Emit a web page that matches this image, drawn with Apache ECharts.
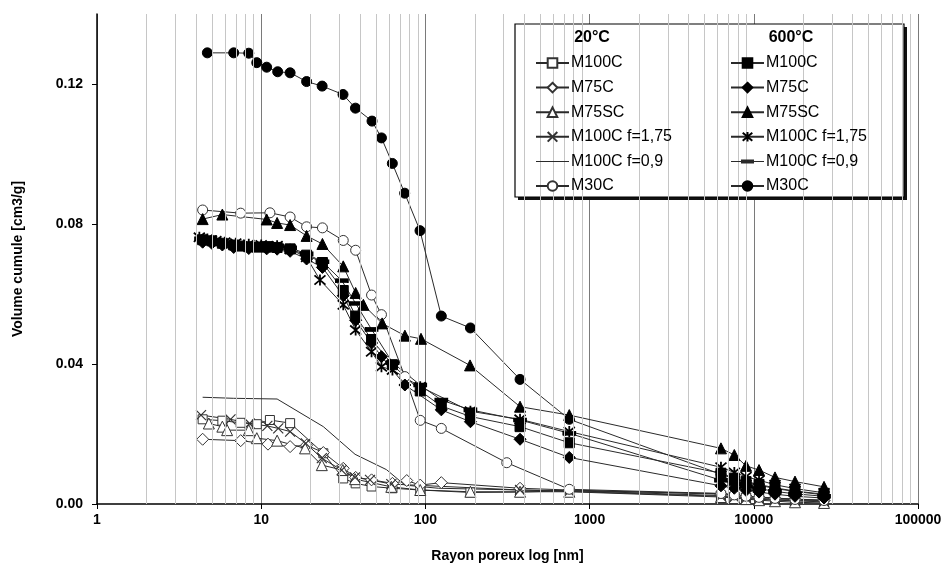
<!DOCTYPE html>
<html>
<head>
<meta charset="utf-8">
<script src="https://cdn.jsdelivr.net/npm/echarts@6/dist/echarts.min.js"></script>
<style>
html,body{margin:0;padding:0;background:#fff;}
#c{width:949px;height:571px;}
</style>
</head>
<body>
<div id="c"></div>
<script>
// ---- axis / tick data ----
const Y_TICKS = [0, 0.04, 0.08, 0.12];
const MINOR_GRID = [2,3,4,5,6,7,8,9,20,30,40,50,60,70,80,90,200,300,400,500,600,700,800,900,
  2000,3000,4000,5000,6000,7000,8000,9000,20000,30000,40000,50000,60000,70000,80000,90000];
const R_X = [6310, 7610, 8970, 10760, 13460, 17820, 26780];

// ---- 20°C series ----
const M100C_20_X = [4.4, 5.8, 7.5, 9.4, 11.3, 15.0, 23.9, 31.6, 37.6, 47, 63, 93, 188, 377, 752, ...R_X];
const M100C_20_Y = [0.0242, 0.0238, 0.0232, 0.0228, 0.0240, 0.0231, 0.0145, 0.0073, 0.0059, 0.0050, 0.0045, 0.0040, 0.0033, 0.0034, 0.0038,
  0.0024, 0.0021, 0.0018, 0.0016, 0.0013, 0.0010, 0.0008];
const M75C_20_X = [4.4, 7.5, 11.0, 15.0, 18.9, 23.9, 31.6, 37.6, 47, 63, 77, 93, 125, 377, 752, ...R_X];
const M75C_20_Y = [0.0185, 0.0181, 0.0171, 0.0164, 0.0168, 0.0147, 0.0102, 0.0076, 0.0069, 0.0059, 0.0067, 0.0054, 0.0061, 0.0045, 0.0040,
  0.0028, 0.0025, 0.0022, 0.0019, 0.0016, 0.0013, 0.0010];
const M75SC_20_X = [4.8, 5.8, 6.2, 8.4, 9.4, 12.5, 18.5, 23.4, 31.4, 37.3, 62, 93, 188, 377, 752, ...R_X];
const M75SC_20_Y = [0.0230, 0.0221, 0.0211, 0.0211, 0.0188, 0.0181, 0.0159, 0.0111, 0.0097, 0.0071, 0.0049, 0.0040, 0.0035, 0.0035, 0.0035,
  0.0020, 0.0017, 0.0014, 0.0011, 0.0008, 0.0005, 0.0003];
const M100C175_20_X = [4.3, 6.5, 8.5, 10.9, 12.7, 15.0, 18.7, 23.4, 30.9, 37.3, 46, 62, 377, 752, ...R_X];
const M100C175_20_Y = [0.0254, 0.0242, 0.0230, 0.0223, 0.0216, 0.0207, 0.0173, 0.0131, 0.0097, 0.0076, 0.0069, 0.0057, 0.0040, 0.0036,
  0.0022, 0.0019, 0.0016, 0.0014, 0.0011, 0.0009, 0.0006];
const M100C09_20_X = [4.4, 6.8, 12.5, 23.9, 37.3, 58, 75, 120, 377, 752, ...R_X];
const M100C09_20_Y = [0.0305, 0.0302, 0.0300, 0.0221, 0.0142, 0.0098, 0.0054, 0.0045, 0.0040, 0.0038,
  0.0030, 0.0026, 0.0023, 0.0020, 0.0017, 0.0014, 0.0011];
const M30C_20_X = [4.4, 7.5, 11.3, 15.0, 18.9, 23.6, 31.6, 37.6, 47, 54, 75, 93, 125, 313, 752, ...R_X];
const M30C_20_Y = [0.0840, 0.0831, 0.0832, 0.0820, 0.0792, 0.0789, 0.0753, 0.0725, 0.0597, 0.0541, 0.0364, 0.0239, 0.0216, 0.0118, 0.0042,
  0.0030, 0.0026, 0.0022, 0.0019, 0.0016, 0.0013, 0.0010];

// ---- 600°C series ----
const M100C_600_X = [4.4, 5.0, 5.8, 6.8, 7.5, 8.4, 9.4, 10.8, 12.5, 15.0, 18.9, 23.6, 31.6, 37.6, 47, 63, 93, 125, 188, 377, 752, ...R_X];
const M100C_600_Y = [0.0755, 0.0752, 0.0745, 0.0740, 0.0737, 0.0735, 0.0734, 0.0734, 0.0733, 0.0729, 0.0711, 0.0690, 0.0610, 0.0537, 0.0470,
  0.0398, 0.0323, 0.0280, 0.0250, 0.0221, 0.0175, 0.0088, 0.0074, 0.0064, 0.0056, 0.0046, 0.0037, 0.0028];
const M75C_600_X = [4.4, 5.0, 5.8, 6.8, 8.4, 10.8, 12.5, 15.0, 18.9, 23.6, 31.6, 37.6, 47, 54, 75, 125, 188, 377, 752, ...R_X];
const M75C_600_Y = [0.0748, 0.0745, 0.0740, 0.0733, 0.0730, 0.0729, 0.0728, 0.0722, 0.0700, 0.0676, 0.0595, 0.0525, 0.0460, 0.0421, 0.0340,
  0.0269, 0.0235, 0.0185, 0.0133, 0.0052, 0.0045, 0.0039, 0.0034, 0.0028, 0.0022, 0.0017];
const M75SC_600_X = [4.4, 5.8, 10.8, 12.5, 15.0, 18.9, 23.6, 31.6, 37.6, 41.9, 54.5, 75, 94, 187, 377, 752, ...R_X];
const M75SC_600_Y = [0.0814, 0.0827, 0.0813, 0.0803, 0.0797, 0.0766, 0.0743, 0.0679, 0.0603, 0.0569, 0.0516, 0.0481, 0.0472, 0.0396, 0.0278, 0.0254,
  0.0159, 0.0140, 0.0109, 0.0097, 0.0076, 0.0064, 0.0049];
const M100C175_600_X = [4.2, 4.7, 5.3, 6.0, 7.0, 8.4, 10.0, 12.5, 15.0, 18.9, 22.8, 31.6, 37.6, 47, 54, 63, 93, 188, 377, 752, ...R_X];
const M100C175_600_Y = [0.0762, 0.0757, 0.0752, 0.0748, 0.0745, 0.0742, 0.0740, 0.0738, 0.0728, 0.0705, 0.0640, 0.0569, 0.0497, 0.0435, 0.0392,
  0.0383, 0.0335, 0.0265, 0.0242, 0.0207, 0.0105, 0.0090, 0.0078, 0.0068, 0.0055, 0.0044, 0.0032];
const M100C09_600_X = [4.3, 4.8, 5.5, 6.5, 7.5, 9.0, 10.8, 12.5, 15.0, 18.9, 23.6, 31.0, 37.6, 47, 63, 93, 125, 188, 377, 752, ...R_X];
const M100C09_600_Y = [0.0758, 0.0755, 0.0750, 0.0745, 0.0742, 0.0741, 0.0745, 0.0738, 0.0732, 0.0715, 0.0692, 0.0638, 0.0573, 0.0499, 0.0404,
  0.0340, 0.0297, 0.0269, 0.0240, 0.0202, 0.0068, 0.0058, 0.0050, 0.0044, 0.0036, 0.0029, 0.0022];
const M30C_600_X = [4.7, 6.8, 8.4, 9.4, 10.8, 12.6, 15.0, 18.9, 23.5, 31.5, 37.5, 47.3, 54.0, 62.9, 74.8, 92.7, 125, 188, 377, 752, ...R_X];
const M30C_600_Y = [0.1289, 0.1289, 0.1288, 0.1261, 0.1248, 0.1235, 0.1232, 0.1207, 0.1194, 0.1170, 0.1131, 0.1094, 0.1046, 0.0973, 0.0888,
  0.0781, 0.0537, 0.0503, 0.0356, 0.0242, 0.0085, 0.0072, 0.0062, 0.0054, 0.0044, 0.0036, 0.0026];

const NAMES = ['M100C', 'M75C', 'M75SC', 'M100C f=1,75', 'M100C f=0,9', 'M30C'];

const zip = (xs, ys) => xs.map((x, i) => [x, ys[i]]);
const FONT = '"Liberation Sans", Arial, sans-serif';
const LINE = '#2a2a2a';

const XSYM = 'path://M0,0L10,10M10,0L0,10';
const ASTSYM = 'path://M0,0L10,10M10,0L0,10M5,-1L5,11';
// legend icons (bounding box fixed by tiny corner dots)
const ICON_LINE = 'path://M0,0L0.05,0L0.05,0.05Z M0,5.5L33,5.5L33,6.6L0,6.6Z M32.95,11.95L33,11.95L33,12L32.95,12Z';
const ICON_DASH = 'path://M0,0L0.05,0L0.05,0.05Z M0,5.5L33,5.5L33,6.6L0,6.6Z M10,4L23,4L23,8L10,8Z M32.95,11.95L33,11.95L33,12L32.95,12Z';

function mk(name, xs, ys, symbol, size, filled, extra) {
  const s = {
    name: name,
    type: 'line',
    data: zip(xs, ys),
    symbol: symbol,
    symbolSize: size,
    showSymbol: symbol !== 'none',
    lineStyle: { color: LINE, width: 1 },
    itemStyle: filled
      ? { color: '#000', borderColor: '#000', borderWidth: 1 }
      : { color: '#fff', borderColor: '#333', borderWidth: 1 },
    emphasis: { disabled: true },
    z: 3
  };
  return Object.assign(s, extra || {});
}

const series = [
  {
    name: '_grid', type: 'line', data: [], silent: true, z: 1,
    markLine: {
      silent: true, symbol: 'none', label: { show: false },
      lineStyle: { color: '#c6c6c6', width: 1, type: 'solid' },
      animation: false,
      data: MINOR_GRID.map(v => ({ xAxis: v }))
    }
  },
  mk('20°C M100C', M100C_20_X, M100C_20_Y, 'rect', 9, false),
  mk('20°C M75C', M75C_20_X, M75C_20_Y, 'diamond', 12, false),
  mk('20°C M75SC', M75SC_20_X, M75SC_20_Y, 'triangle', 11, false),
  mk('20°C M100C f=1,75', M100C175_20_X, M100C175_20_Y, XSYM, 10, false,
     { itemStyle: { color: 'rgba(0,0,0,0)', borderColor: '#333', borderWidth: 1.2 } }),
  mk('20°C M100C f=0,9', M100C09_20_X, M100C09_20_Y, 'none', 0, false,
     { itemStyle: { color: LINE, borderWidth: 0 } }),
  mk('20°C M30C', M30C_20_X, M30C_20_Y, 'circle', 10, false),
  mk('600°C M100C', M100C_600_X, M100C_600_Y, 'rect', 10, true),
  mk('600°C M75C', M75C_600_X, M75C_600_Y, 'diamond', 12, true),
  mk('600°C M75SC', M75SC_600_X, M75SC_600_Y, 'triangle', 11, true),
  mk('600°C M100C f=1,75', M100C175_600_X, M100C175_600_Y, ASTSYM, 11, true,
     { itemStyle: { color: 'rgba(0,0,0,0)', borderColor: '#000', borderWidth: 1.8 } }),
  mk('600°C M100C f=0,9', M100C09_600_X, M100C09_600_Y, 'rect', [12, 4], true),
  mk('600°C M30C', M30C_600_X, M30C_600_Y, 'circle', 10, true)
];

function legendData(prefix) {
  return NAMES.map(n => {
    const name = prefix + ' ' + n;
    if (n === 'M100C f=0,9') {
      return { name: name, icon: prefix === '20°C' ? ICON_LINE : ICON_DASH,
               itemStyle: { color: LINE, borderWidth: 0 } };
    }
    return name;
  });
}

const legendBase = {
  orient: 'vertical',
  top: 55,
  itemWidth: 33,
  itemHeight: 12,
  itemGap: 8.6,
  padding: 0,
  selectedMode: false,
  formatter: n => n.replace(/^\S+ /, ''),
  textStyle: { fontFamily: FONT, fontSize: 16, color: '#000', padding: [0, 0, 0, -3] },
  z: 6
};

const chart = echarts.init(document.getElementById('c'), null, { renderer: 'canvas' });
chart.setOption({
  animation: false,
  backgroundColor: '#fff',
  grid: { left: 97, right: 31, top: 14, bottom: 67, containLabel: false },
  xAxis: {
    type: 'log',
    logBase: 10,
    min: 1,
    max: 100000,
    name: 'Rayon poreux log [nm]',
    nameLocation: 'middle',
    nameGap: 45,
    nameTextStyle: { fontFamily: FONT, fontSize: 14, fontWeight: 'bold', color: '#000' },
    axisLine: { lineStyle: { color: '#000', width: 1.5 } },
    axisTick: { show: true, length: 5, lineStyle: { color: '#000' } },
    axisLabel: {
      fontFamily: FONT, fontSize: 14, fontWeight: 'bold', color: '#000', margin: 9,
      formatter: v => String(Math.round(v))
    },
    splitLine: { show: true, lineStyle: { color: '#7a7a7a', width: 1 } },
    minorTick: { show: false },
    minorSplitLine: { show: false }
  },
  yAxis: {
    type: 'value',
    min: 0,
    max: 0.14,
    interval: 0.04,
    name: 'Volume cumule [cm3/g]',
    nameLocation: 'middle',
    nameGap: 72,
    nameTextStyle: { fontFamily: FONT, fontSize: 14, fontWeight: 'bold', color: '#000' },
    axisLine: { show: true, lineStyle: { color: '#000', width: 1.5 } },
    axisTick: { show: true, length: 5, lineStyle: { color: '#000' }, customValues: Y_TICKS },
    axisLabel: {
      fontFamily: FONT, fontSize: 14, fontWeight: 'bold', color: '#000', margin: 14,
      customValues: Y_TICKS,
      formatter: v => v.toFixed(2)
    },
    splitLine: { show: false }
  },
  legend: [
    Object.assign({}, legendBase, { left: 535, data: legendData('20°C') }),
    Object.assign({}, legendBase, { left: 730, data: legendData('600°C') })
  ],
  graphic: [
    {
      type: 'rect', z: 5, silent: true,
      shape: { x: 518, y: 27, width: 389, height: 173 },
      style: { fill: '#111', stroke: null }
    },
    {
      type: 'rect', z: 5, silent: true,
      shape: { x: 515, y: 24, width: 389, height: 173 },
      style: { fill: '#fff', stroke: '#000', lineWidth: 1.2 }
    },
    {
      type: 'text', z: 6, silent: true, x: 592, y: 38,
      style: { text: '20°C', font: 'bold 16px ' + FONT, fill: '#000', align: 'center', verticalAlign: 'middle' }
    },
    {
      type: 'text', z: 6, silent: true, x: 791, y: 38,
      style: { text: '600°C', font: 'bold 16px ' + FONT, fill: '#000', align: 'center', verticalAlign: 'middle' }
    }
  ],
  series: series
});
</script>
</body>
</html>
